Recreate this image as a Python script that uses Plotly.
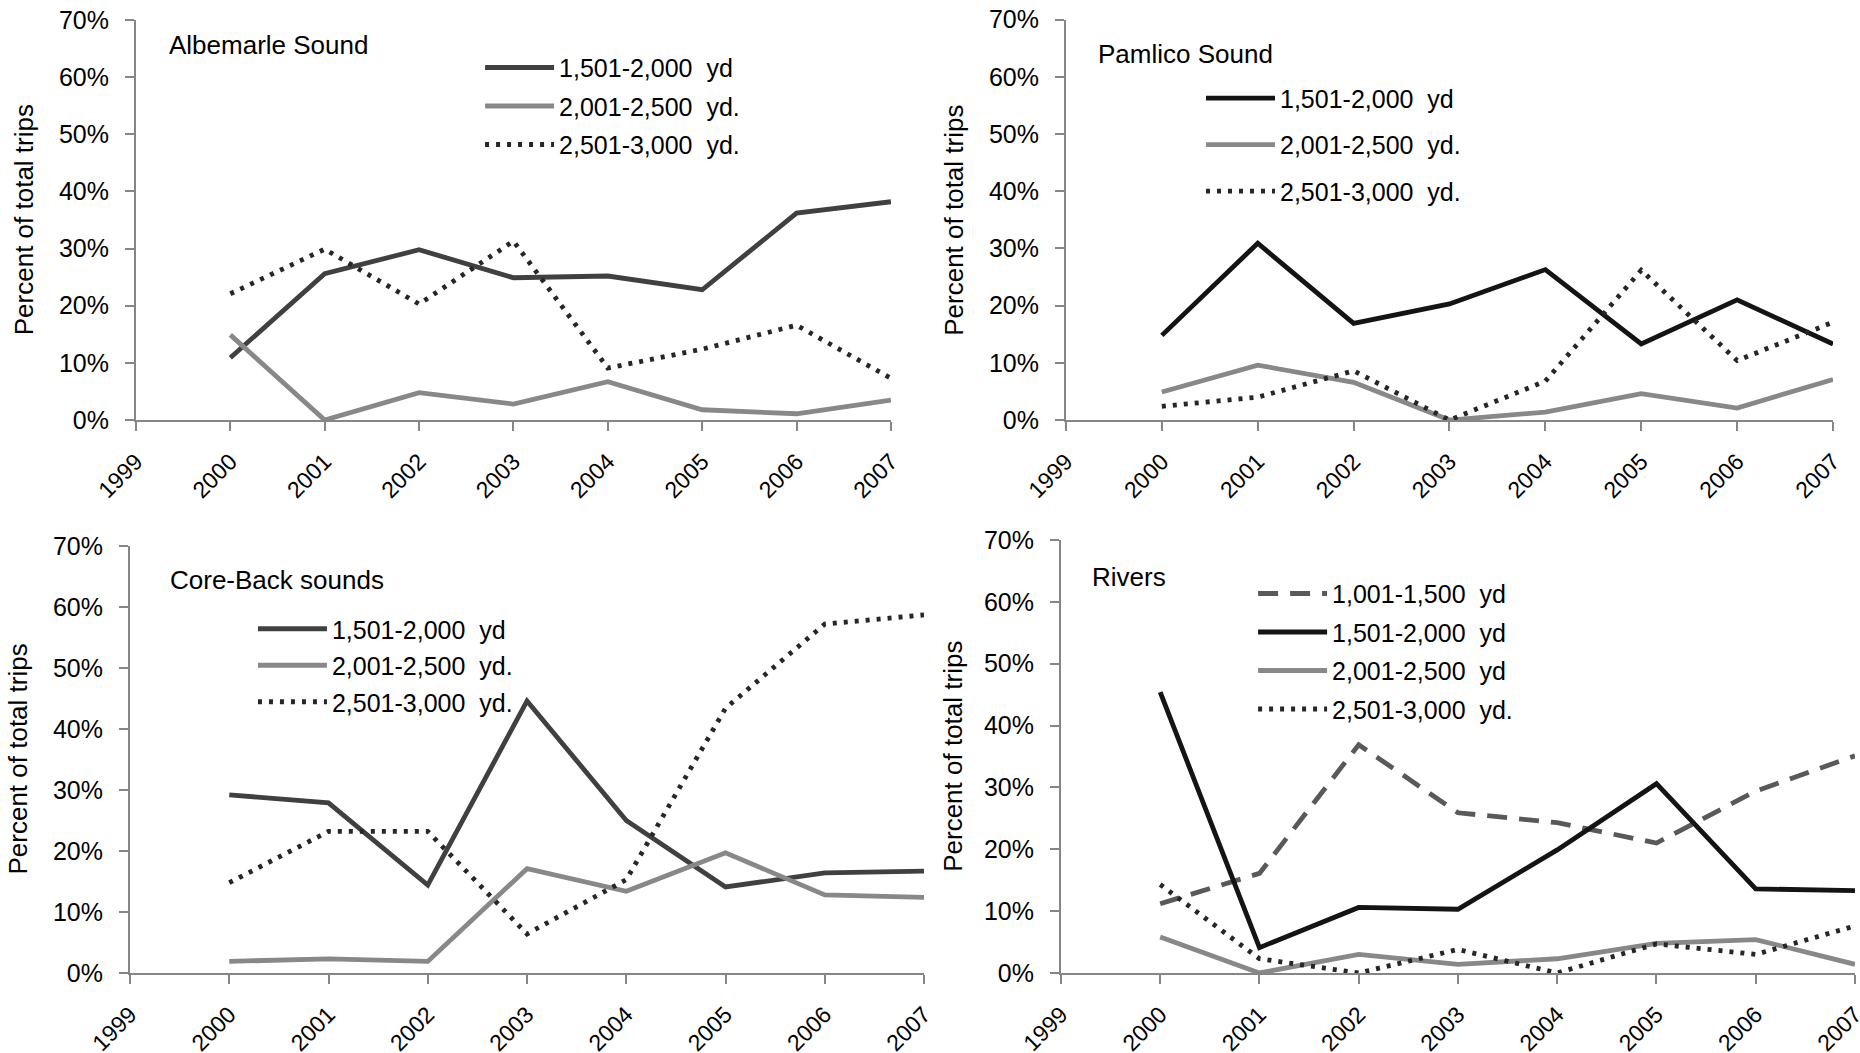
import plotly.graph_objects as go

years = [2000, 2001, 2002, 2003, 2004, 2005, 2006, 2007]
tick_years = [1999, 2000, 2001, 2002, 2003, 2004, 2005, 2006, 2007]
y_ticks = [0, 10, 20, 30, 40, 50, 60, 70]

region_names = ["Albemarle Sound", "Pamlico Sound", "Core-Back sounds", "Rivers"]

alb_1501 = [10.9, 25.6, 29.8, 24.9, 25.2, 22.8, 36.2, 38.2]
alb_2001 = [14.9, 0.0, 4.8, 2.8, 6.7, 1.8, 1.1, 3.5]
alb_2501 = [22.1, 29.9, 20.3, 31.3, 9.1, 12.4, 16.6, 7.3]

pam_1501 = [14.8, 30.9, 16.9, 20.3, 26.3, 13.3, 21.0, 13.3]
pam_2001 = [4.9, 9.6, 6.6, 0.0, 1.4, 4.6, 2.1, 7.1]
pam_2501 = [2.4, 4.0, 8.6, 0.0, 6.8, 26.2, 10.4, 17.1]

core_1501 = [29.2, 27.9, 14.4, 44.6, 25.0, 14.1, 16.4, 16.7]
core_2001 = [1.9, 2.3, 1.9, 17.1, 13.4, 19.7, 12.8, 12.4]
core_2501 = [14.8, 23.2, 23.2, 6.4, 15.3, 43.4, 57.2, 58.7]

riv_1001 = [11.2, 16.1, 36.9, 25.9, 24.3, 21.0, 29.4, 35.1]
riv_1501 = [45.4, 4.1, 10.6, 10.3, 19.9, 30.6, 13.6, 13.3]
riv_2001 = [5.8, 0.0, 3.0, 1.4, 2.3, 4.8, 5.4, 1.4]
riv_2501 = [14.3, 2.3, 0.0, 3.8, 0.0, 4.7, 3.0, 7.6]

FONT = "Liberation Sans, Arial, sans-serif"
DARK = "#404040"
BLACK = "#141414"
GRAY = "#888888"
DOT = "#262626"
DASHC = "#595959"
W = 4.8
DOTDASH = "4px,7px"

panels = [
    ("x", "y", "legend", [
        ("1,501-2,000  yd", alb_1501, DARK, "solid"),
        ("2,001-2,500  yd.", alb_2001, GRAY, "solid"),
        ("2,501-3,000  yd.", alb_2501, DOT, DOTDASH),
    ]),
    ("x2", "y2", "legend2", [
        ("1,501-2,000  yd", pam_1501, BLACK, "solid"),
        ("2,001-2,500  yd.", pam_2001, GRAY, "solid"),
        ("2,501-3,000  yd.", pam_2501, DOT, DOTDASH),
    ]),
    ("x3", "y3", "legend3", [
        ("1,501-2,000  yd", core_1501, DARK, "solid"),
        ("2,001-2,500  yd.", core_2001, GRAY, "solid"),
        ("2,501-3,000  yd.", core_2501, DOT, DOTDASH),
    ]),
    ("x4", "y4", "legend4", [
        ("1,001-1,500  yd", riv_1001, DASHC, "20px,12px"),
        ("1,501-2,000  yd", riv_1501, BLACK, "solid"),
        ("2,001-2,500  yd", riv_2001, GRAY, "solid"),
        ("2,501-3,000  yd.", riv_2501, DOT, DOTDASH),
    ]),
]

fig = go.Figure()
for pi, (xa, ya, lg, series) in enumerate(panels):
    for si, (name, vals, col, dash) in enumerate(series):
        fig.add_trace(go.Scatter(
            x=years, y=vals, name=name, mode="lines",
            line=dict(color=col, width=W, dash=dash),
            xaxis=xa, yaxis=ya, legend=lg,
            legendgroup=f"p{pi}s{si}",
        ))

x_domains = [[0.0731, 0.4790], [0.5731, 0.9855], [0.0699, 0.4968], [0.5704, 0.9973]]
y_domains = [[0.6011, 0.9810], [0.6011, 0.9814], [0.0760, 0.4815], [0.0760, 0.4872]]

axis_col = "#868686"
layout = dict(
    width=1860, height=1053,
    margin=dict(l=0, r=0, t=0, b=0, autoexpand=False),
    paper_bgcolor="white", plot_bgcolor="white",
    font=dict(family=FONT, size=25, color="black"),
    showlegend=True,
)
for i in range(4):
    sfx = "" if i == 0 else str(i + 1)
    layout["xaxis" + sfx] = dict(
        domain=x_domains[i], anchor="y" + sfx, range=[1999, 2007],
        tickmode="array", tickvals=tick_years, ticktext=[str(t) for t in tick_years],
        tickangle=-45, ticks="outside", ticklen=9, tickwidth=2, tickcolor=axis_col,
        showline=True, linecolor=axis_col, linewidth=2, showgrid=False, zeroline=False,
        tickfont=dict(family=FONT, size=23, color="black"), ticklabelstandoff=8,
        ticklabeloverflow="allow", automargin=False, fixedrange=True,
    )
    layout["yaxis" + sfx] = dict(
        domain=y_domains[i], anchor="x" + sfx, range=[0, 70],
        tickmode="array", tickvals=y_ticks, ticktext=[f"{t}%" for t in y_ticks],
        ticks="outside", ticklen=9, tickwidth=2, tickcolor=axis_col,
        showline=True, linecolor=axis_col, linewidth=2, showgrid=False, zeroline=False,
        tickfont=dict(family=FONT, size=25, color="black"), ticklabelstandoff=11,
        ticklabeloverflow="allow", automargin=False, fixedrange=True,
    )

legend_pos = [(0.2581, 0.9575, 3), (0.6457, 0.9285, 11), (0.1360, 0.4245, 1), (0.6737, 0.4580, 3)]
for i, (lx, ly, gap) in enumerate(legend_pos):
    key = "legend" if i == 0 else f"legend{i + 1}"
    layout[key] = dict(
        x=lx, y=ly, xanchor="left", yanchor="top", xref="paper", yref="paper",
        bgcolor="rgba(0,0,0,0)", borderwidth=0, itemwidth=69,
        tracegroupgap=gap, traceorder="grouped",
        font=dict(family=FONT, size=25, color="black"),
    )

fig.update_layout(**layout)

title_pos = [(0.041, 0.9375), (0.039, 0.915), (0.048, 0.920), (0.036, 0.915)]
ytitle_x = [-0.148, -0.146, -0.141, -0.1355]
for i in range(4):
    sfx = "" if i == 0 else str(i + 1)
    tx, ty = title_pos[i]
    fig.add_annotation(
        text=region_names[i], x=tx, y=ty, xref=f"x{sfx} domain", yref=f"y{sfx} domain",
        xanchor="left", yanchor="middle", showarrow=False,
        font=dict(family=FONT, size=26, color="black"),
    )
    fig.add_annotation(
        text="Percent of total trips", x=ytitle_x[i], y=0.5,
        xref=f"x{sfx} domain", yref=f"y{sfx} domain",
        xanchor="center", yanchor="middle", textangle=-90, showarrow=False,
        font=dict(family=FONT, size=26, color="black"),
    )

fig.write_html("out.html", config={"displayModeBar": False},
               post_script="document.body.style.margin='0';")
